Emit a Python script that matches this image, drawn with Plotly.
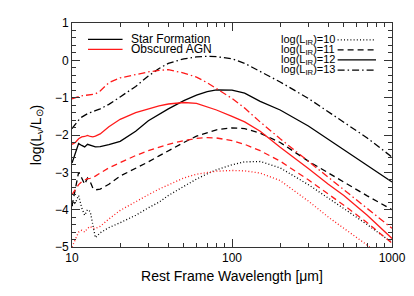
import plotly.graph_objects as go

# ---------------- data ----------------
WAVELENGTH = [10, 10.5, 11, 11.5, 12, 12.5, 13, 13.5, 14, 15, 17, 20, 25, 30, 35, 40,
              50, 60, 70, 80, 100, 120, 150, 200, 300, 400, 500, 700, 1000]

# Star formation templates, log(L_nu/L_sun)
SF_10 = [-3.9, -3.82, -3.62, -3.95, -4.15, -4.0, -4.05, -4.4, -4.75, -4.62, -4.48, -4.35,
         -4.15, -3.95, -3.8, -3.62, -3.38, -3.18, -3.04, -2.93, -2.8, -2.72, -2.71, -2.88,
         -3.33, -3.68, -3.97, -4.4, -4.88]
SF_11 = [-3.9, -3.45, -3.0, -3.15, -3.32, -3.15, -3.25, -3.42, -3.47, -3.45, -3.32, -3.1,
         -2.9, -2.72, -2.56, -2.42, -2.2, -2.03, -1.93, -1.86, -1.81, -1.83, -1.95, -2.2,
         -2.7, -3.02, -3.27, -3.63, -4.0]
SF_12 = [-2.75, -2.5, -2.23, -2.28, -2.32, -2.25, -2.27, -2.31, -2.32, -2.31, -2.26, -2.17,
         -1.9, -1.62, -1.45, -1.3, -1.08, -0.93, -0.84, -0.79, -0.8, -0.88, -1.1, -1.33,
         -1.76, -2.12, -2.4, -2.82, -3.26]
SF_13 = [-1.83, -1.7, -1.6, -1.52, -1.47, -1.43, -1.4, -1.38, -1.35, -1.3, -1.18, -0.98,
         -0.7, -0.42, -0.22, -0.08, 0.04, 0.09, 0.11, 0.1, 0.04, -0.08, -0.3, -0.58,
         -1.02, -1.38, -1.66, -2.08, -2.59]

# Obscured AGN templates
AGN_10 = [-5.0, -4.78, -4.6, -4.55, -4.6, -4.5, -4.45, -4.5, -4.5, -4.45, -4.25, -4.02,
          -3.78, -3.6, -3.45, -3.33, -3.15, -3.05, -3.0, -2.97, -2.95, -2.96, -3.02, -3.22,
          -3.77, -4.2, -4.5, -4.95, -5.5]
AGN_11 = [-3.6, -3.45, -3.33, -3.25, -3.21, -3.17, -3.16, -3.14, -3.1, -3.02, -2.88, -2.74,
          -2.55, -2.42, -2.32, -2.25, -2.15, -2.09, -2.07, -2.08, -2.15, -2.25, -2.42, -2.7,
          -3.2, -3.58, -3.88, -4.35, -4.9]
AGN_12 = [-2.25, -2.2, -2.1, -2.05, -2.04, -2.01, -2.04, -2.05, -2.03, -1.97, -1.78, -1.58,
          -1.4, -1.3, -1.22, -1.17, -1.13, -1.15, -1.24, -1.33, -1.5, -1.65, -1.9, -2.33,
          -2.9, -3.32, -3.62, -4.15, -4.77]
AGN_13 = [-1.03, -1.0, -0.97, -0.95, -0.94, -0.93, -0.93, -0.92, -0.9, -0.82, -0.6, -0.47,
          -0.38, -0.31, -0.27, -0.25, -0.34, -0.45, -0.6, -0.75, -1.02, -1.28, -1.65, -2.1,
          -2.7, -3.13, -3.45, -3.95, -4.5]

MODEL_NAMES = ["Star Formation", "Obscured AGN"]
MODEL_COLORS = ["black", "#ff1a1a"]
LUMINOSITIES = ["10", "11", "12", "13"]

X_TICKS = [10, 100, 1000]
X_TICK_TEXT = ["10", "100", "1000"]
Y_TICKS = [-5, -4, -3, -2, -1, 0, 1]
Y_TICK_TEXT = ["\u22125", "\u22124", "\u22123", "\u22122", "\u22121", "0", "1"]

# ---------------- styling ----------------
DASHES = ["1px,2.2px", "6px,4px", "solid", "7px,3px,1.5px,3px"]
FONT = "Liberation Sans, Arial, sans-serif"

fig = go.Figure()
series = [[SF_10, SF_11, SF_12, SF_13], [AGN_10, AGN_11, AGN_12, AGN_13]]
for m, group in enumerate(series):
    for k, vals in enumerate(group):
        fig.add_trace(go.Scatter(
            x=WAVELENGTH, y=vals, mode="lines",
            line=dict(color=MODEL_COLORS[m], width=1.3, dash=DASHES[k]),
            name=f"{MODEL_NAMES[m]} log(L_IR)={LUMINOSITIES[k]}",
            showlegend=False, hoverinfo="skip"))

# ---------------- legends (annotations + sample lines in paper coords) ----------------
shapes = []
annotations = []
left_rows = [0.927, 0.882]
for i, name in enumerate(MODEL_NAMES):
    shapes.append(dict(type="line", xref="paper", yref="paper",
                       x0=0.05, x1=0.158, y0=left_rows[i], y1=left_rows[i],
                       line=dict(color=MODEL_COLORS[i], width=1.3)))
    annotations.append(dict(xref="paper", yref="paper", x=0.178, y=left_rows[i],
                            xanchor="left", yanchor="middle", showarrow=False,
                            text=name, font=dict(family=FONT, size=12, color="black")))

right_rows = [0.925, 0.880, 0.835, 0.790]
for i, lum in enumerate(LUMINOSITIES):
    shapes.append(dict(type="line", xref="paper", yref="paper",
                       x0=0.83, x1=0.95, y0=right_rows[i], y1=right_rows[i],
                       line=dict(color="black", width=1.3, dash=DASHES[i])))
    annotations.append(dict(xref="paper", yref="paper", x=0.828, y=right_rows[i],
                            xanchor="right", yanchor="middle", showarrow=False,
                            text=f"log(L<sub>IR</sub>)={lum}",
                            font=dict(family=FONT, size=11, color="black")))

axis_common = dict(showline=True, linecolor="#333333", linewidth=1, mirror="ticks",
                   ticks="inside", ticklen=8, tickcolor="#333333", showgrid=False,
                   zeroline=False, automargin=False,
                   tickfont=dict(family=FONT, size=12, color="black"))

# the page body adds an 8px offset; the figure is sized to fit the 414x296 window
fig.update_layout(
    width=406, height=288, autosize=False,
    margin=dict(l=64, r=22, t=15, b=49),
    paper_bgcolor="white", plot_bgcolor="white",
    showlegend=False,
    shapes=shapes, annotations=annotations,
    xaxis=dict(type="log", range=[1, 3], tickvals=X_TICKS, ticktext=X_TICK_TEXT,
               minor=dict(ticks="inside", ticklen=4, tickcolor="#333333", dtick="D1", showgrid=False),
               title=dict(text="Rest Frame Wavelength [\u03bcm]", standoff=6,
                          font=dict(family=FONT, size=14, color="black")),
               **axis_common),
    yaxis=dict(range=[-5, 1], tickvals=Y_TICKS, ticktext=Y_TICK_TEXT,
               minor=dict(ticks="inside", ticklen=4, tickcolor="#333333", dtick=0.2, showgrid=False),
               title=dict(text="log(L<sub>\u03bd</sub>/L<sub>\u2299</sub>)", standoff=10,
                          font=dict(family=FONT, size=14, color="black")),
               **axis_common),
)

fig.write_html("out.html")
